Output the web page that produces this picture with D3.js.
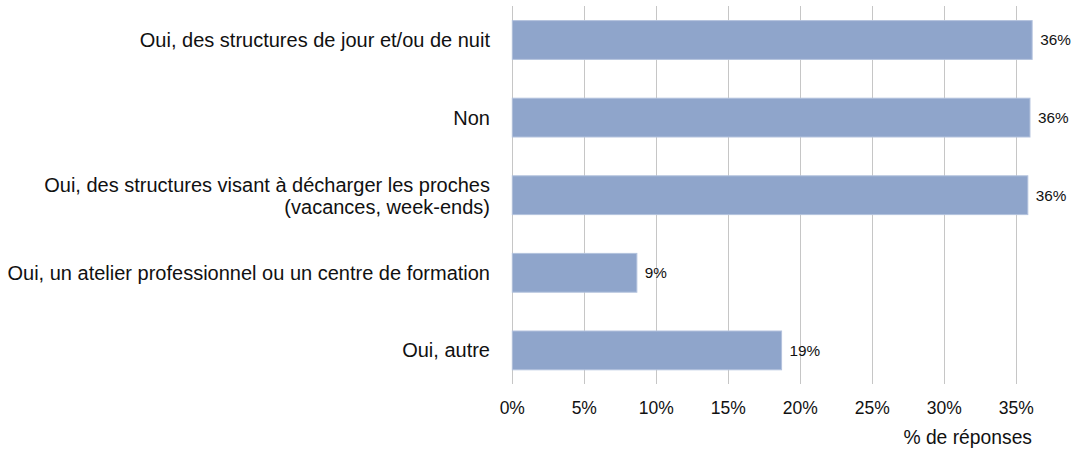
<!DOCTYPE html>
<html lang="fr"><head>
<meta charset="utf-8">
<title>Structures</title>
<script src="https://d3js.org/d3.v7.min.js"></script>
<style>
  body { margin: 0; background: #fff; }
  text { font-family: "Liberation Sans", Arial, sans-serif; fill: #111; }
</style>
</head>
<body>
<script>
const categories = [
  ["Oui, des structures de jour et/ou de nuit"],
  ["Non"],
  ["Oui, des structures visant à décharger les proches", "(vacances, week-ends)"],
  ["Oui, un atelier professionnel ou un centre de formation"],
  ["Oui, autre"]
];
const values = [36.1, 35.95, 35.8, 8.65, 18.7];
const valueLabels = ["36%", "36%", "36%", "9%", "19%"];
const ticks = [0, 5, 10, 15, 20, 25, 30, 35];
const axisTitle = "% de réponses";

const width = 1078, height = 449;
const svg = d3.select("body").append("svg")
  .attr("width", width).attr("height", height);

const x = d3.scaleLinear().domain([0, 35]).range([512.3, 1016.3]);
const y = d3.scaleBand().domain(d3.range(categories.length))
  .range([1.2, 389.2]).paddingInner(0.5).paddingOuter(0.25);

// grid
svg.append("g").selectAll("line").data(ticks).enter().append("line")
  .attr("x1", d => Math.round(x(d)) + 0.5).attr("x2", d => Math.round(x(d)) + 0.5)
  .attr("y1", 6).attr("y2", 384)
  .attr("stroke", "#c6c6c6").attr("stroke-width", 1);

// bars
svg.append("g").selectAll("rect").data(values).enter().append("rect")
  .attr("x", x(0))
  .attr("y", (d, i) => y(i))
  .attr("width", d => x(d) - x(0))
  .attr("height", y.bandwidth())
  .attr("fill", "#8fa5cb")
  .attr("stroke", "#b3c2dd").attr("stroke-width", 1);

// value labels
svg.append("g").selectAll("text").data(values).enter().append("text")
  .attr("x", d => x(d) + 8)
  .attr("y", (d, i) => y(i) + y.bandwidth() / 2)
  .attr("dy", "0.35em")
  .attr("font-size", "15.3px")
  .text((d, i) => valueLabels[i]);

// category labels
const cat = svg.append("g").selectAll("text").data(categories).enter().append("text")
  .attr("text-anchor", "end")
  .attr("font-size", "20px")
  .attr("y", (d, i) => y(i) + y.bandwidth() / 2);
cat.selectAll("tspan").data(d => d.map((t, k) => ({t, k, n: d.length}))).enter()
  .append("tspan")
  .attr("x", 490)
  .attr("dy", p => p.k === 0 ? (0.35 - (p.n - 1) * 0.5) + "em" : "1.1em")
  .text(p => p.t);

// tick labels
svg.append("g").selectAll("text").data(ticks).enter().append("text")
  .attr("x", d => x(d))
  .attr("y", 408).attr("dy", "0.35em")
  .attr("text-anchor", "middle")
  .attr("font-size", "17.5px")
  .text(d => d + "%");

svg.append("text")
  .attr("x", 1032).attr("y", 437).attr("dy", "0.35em")
  .attr("text-anchor", "end")
  .attr("font-size", "19.3px")
  .text(axisTitle);
</script>
</body></html>
